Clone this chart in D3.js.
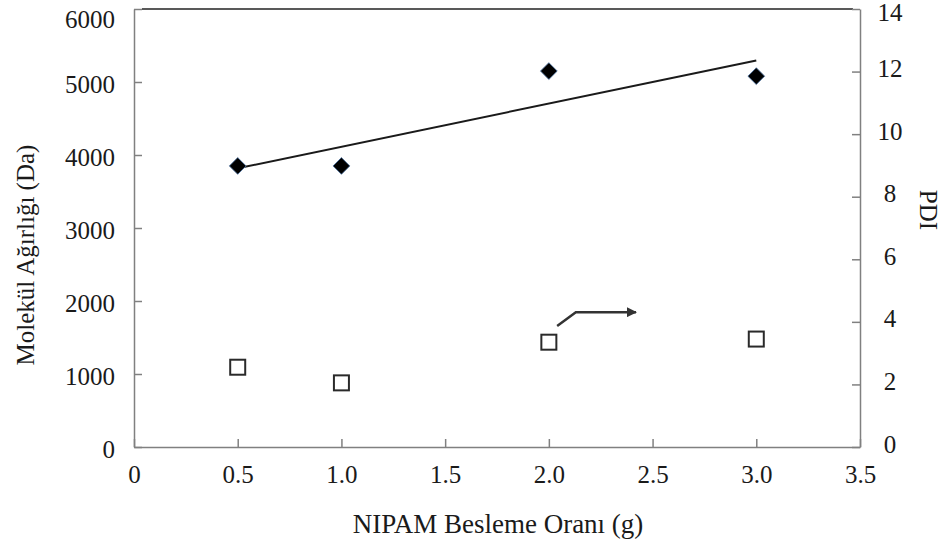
<!DOCTYPE html>
<html>
<meta charset="utf-8">
<head>
<script src="https://d3js.org/d3.v7.min.js"></script>
<style>
body { margin: 0; background: #fff; }
text { font-family: "Liberation Serif", "Times New Roman", serif; fill: #1a1a1a; }
.axis path, .axis line { stroke: #808080; stroke-width: 1.5px; }
</style>
</head>
<body>
<div id="chart"></div>
<script type="text/javascript">
  // NIPAM feed amount (g)
  var nipam = [0.5, 1.0, 2.0, 3.0];
  // molecular weight (Da), left axis
  var mw = [3850, 3850, 5150, 5080];
  // PDI, right axis
  var pdi = [2.55, 2.05, 3.35, 3.45];

  var xTicks = [0, 0.5, 1.0, 1.5, 2.0, 2.5, 3.0, 3.5];
  var xTickLabels = ["0", "0.5", "1.0", "1.5", "2.0", "2.5", "3.0", "3.5"];
  var mwTicks = [0, 1000, 2000, 3000, 4000, 5000, 6000];
  var pdiTicks = [0, 2, 4, 6, 8, 10, 12, 14];

  // arrow pointing to the right axis (x, PDI)
  var arrowPts = [[2.04, 3.87], [2.13, 4.31], [2.42, 4.31]];

  var width = 946, height = 548;
  var plotLeft = 134, plotRight = 860, plotTop = 9, plotBottom = 447;

  var svg = d3.select("#chart").append("svg").attr("width", width).attr("height", height);

  var x = d3.scaleLinear().domain([0, 3.5]).range([plotLeft, plotRight]);
  var yL = d3.scaleLinear().domain([0, 6000]).range([plotBottom, plotTop]);
  var yR = d3.scaleLinear().domain([0, 14]).range([plotBottom, plotTop]);

  svg.append("defs").append("marker")
      .attr("id", "head")
      .attr("viewBox", "0 0 10 10")
      .attr("refX", 9).attr("refY", 5)
      .attr("markerWidth", 4.5).attr("markerHeight", 4)
      .attr("markerUnits", "strokeWidth")
      .attr("orient", "auto")
    .append("path").attr("d", "M0,0 L10,5 L0,10 z").attr("fill", "#333");

  // top border of plot
  svg.append("line")
      .attr("x1", plotLeft + 8).attr("x2", plotRight - 7)
      .attr("y1", plotTop).attr("y2", plotTop)
      .attr("stroke", "#222").attr("stroke-width", 1.5);

  var xAxis = d3.axisBottom(x).tickValues(xTicks).tickSize(-8).tickSizeOuter(0)
      .tickFormat(function(d, i) { return xTickLabels[i]; });
  var gx = svg.append("g").attr("class", "axis")
      .attr("transform", "translate(0," + plotBottom + ")")
      .call(xAxis);
  gx.selectAll("text").attr("y", 18).attr("font-size", "25px").attr("fill", "#1a1a1a");

  var yAxisL = d3.axisLeft(yL).tickValues(mwTicks).tickSize(-8).tickSizeOuter(0)
      .tickFormat(d3.format("d"));
  var gl = svg.append("g").attr("class", "axis")
      .attr("transform", "translate(" + plotLeft + ",0)")
      .call(yAxisL);
  gl.selectAll("text").attr("x", -19).attr("font-size", "25px").attr("fill", "#1a1a1a")
      .attr("dy", function(d) { return d == 6000 ? "0.72em" : "0.4em"; });

  var yAxisR = d3.axisRight(yR).tickValues(pdiTicks).tickSize(-8).tickSizeOuter(0)
      .tickFormat(d3.format("d"));
  var gr = svg.append("g").attr("class", "axis")
      .attr("transform", "translate(" + plotRight + ",0)")
      .call(yAxisR);
  gr.selectAll("text").attr("x", 30).attr("text-anchor", "middle")
      .attr("font-size", "25px").attr("fill", "#1a1a1a")
      .attr("dy", function(d) { return d == 14 ? "0.44em" : "0.2em"; });

  // linear trend line of molecular weight
  var mx = d3.mean(nipam), my = d3.mean(mw);
  var sxy = d3.sum(nipam, function(v, i) { return (v - mx) * (mw[i] - my); });
  var sxx = d3.sum(nipam, function(v) { return (v - mx) * (v - mx); });
  var slope = sxy / sxx, icpt = my - slope * mx;
  var xEnds = d3.extent(nipam);
  svg.append("line")
      .attr("x1", x(xEnds[0])).attr("y1", yL(icpt + slope * xEnds[0]))
      .attr("x2", x(xEnds[1])).attr("y2", yL(icpt + slope * xEnds[1]))
      .attr("stroke", "#1a1a1a").attr("stroke-width", 2);

  // molecular weight diamonds
  var diamond = d3.symbol().type(d3.symbolSquare).size(140);
  svg.selectAll(".mw").data(nipam).enter().append("path")
      .attr("class", "mw")
      .attr("d", diamond)
      .attr("transform", function(d, i) { return "translate(" + x(d) + "," + yL(mw[i]) + ") rotate(45)"; })
      .attr("fill", "#000")
      .attr("stroke", "#4a6f9c").attr("stroke-width", 0.8);

  // PDI squares
  svg.selectAll(".pdi").data(nipam).enter().append("rect")
      .attr("class", "pdi")
      .attr("x", function(d) { return x(d) - 7.5; })
      .attr("y", function(d, i) { return yR(pdi[i]) - 7.5; })
      .attr("width", 15).attr("height", 15)
      .attr("fill", "#fff")
      .attr("stroke", "#2a2a2a").attr("stroke-width", 2);

  svg.append("path")
      .attr("d", d3.line()(arrowPts.map(function(p) { return [x(p[0]), yR(p[1])]; })))
      .attr("fill", "none")
      .attr("stroke", "#333").attr("stroke-width", 2.5)
      .attr("marker-end", "url(#head)");

  svg.append("text")
      .attr("x", (plotLeft + plotRight) / 2 + 1).attr("y", 533)
      .attr("text-anchor", "middle").attr("font-size", "27px")
      .text("NIPAM Besleme Oranı (g)");

  svg.append("text")
      .attr("transform", "translate(34,255) rotate(-90)")
      .attr("text-anchor", "middle").attr("font-size", "25px")
      .text("Molekül Ağırlığı (Da)");

  svg.append("text")
      .attr("transform", "translate(920,210) rotate(90)")
      .attr("text-anchor", "middle").attr("font-size", "25px")
      .text("PDI");
</script>
</body>
</html>
